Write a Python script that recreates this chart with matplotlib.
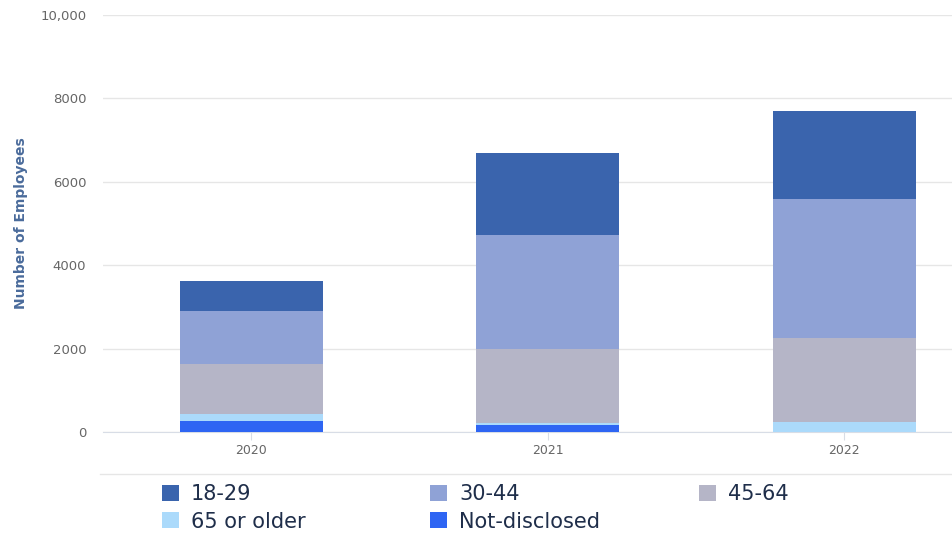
import matplotlib
matplotlib.use("Agg")
import matplotlib.pyplot as plt
from matplotlib.patches import Patch
from matplotlib.lines import Line2D
import numpy as np

years = ["2020", "2021", "2022"]
series_names = ["18-29", "30-44", "45-64", "65 or older", "Not-disclosed"]
not_disclosed = [260, 170, 0]
older_65 = [170, 40, 250]
age_45_64 = [1200, 1780, 2000]
age_30_44 = [1270, 2730, 3330]
age_18_29 = [720, 1960, 2110]
y_ticks = [0, 2000, 4000, 6000, 8000, 10000]
y_tick_labels = ["0", "2000", "4000", "6000", "8000", "10,000"]

colors = {
    "18-29": "#3a64ad",
    "30-44": "#8fa2d6",
    "45-64": "#b5b5c7",
    "65 or older": "#abdafb",
    "Not-disclosed": "#2e65f3",
}

fig = plt.figure(figsize=(9.52, 5.34), dpi=100)
ax = fig.add_axes([103/952, 102/534, 889.5/952, 417/534])

x = np.arange(len(years))
width = 0.482
stack_order = [("Not-disclosed", not_disclosed), ("65 or older", older_65),
               ("45-64", age_45_64), ("30-44", age_30_44), ("18-29", age_18_29)]
bottom = np.zeros(len(years))
for name, vals in stack_order:
    ax.bar(x, vals, width, bottom=bottom, color=colors[name], zorder=3, linewidth=0)
    bottom += np.array(vals)

ax.set_xlim(-0.5, 2.5)
ax.set_ylim(0, 10000)
ax.set_yticks(y_ticks)
ax.set_yticklabels(y_tick_labels)
ax.set_xticks(x)
ax.set_xticklabels(years)
ax.grid(axis="y", color="#e6e6e6", linewidth=1, zorder=0)
for s in ["top", "right", "left"]:
    ax.spines[s].set_visible(False)
ax.spines["bottom"].set_color("#d8dde6")
ax.tick_params(axis="y", length=0, labelsize=9.5, labelcolor="#666666", pad=12)
ax.tick_params(axis="x", length=6, color="#d8dde6", labelsize=9, labelcolor="#666666", pad=3)
ax.set_ylabel("Number of Employees", fontsize=10, fontweight="bold", color="#4a6b9b", labelpad=9)

# separator line above legend
fig.add_artist(Line2D([100/952, 1.0], [1 - 474/534, 1 - 474/534], color="#e6e6e6", linewidth=1))

handles = {n: Patch(facecolor=colors[n], edgecolor="none") for n in series_names}
columns = [(["18-29", "65 or older"], 162), (["30-44", "Not-disclosed"], 430), (["45-64"], 699)]
for names, xpix in columns:
    leg = fig.legend([handles[n] for n in names], names,
                     ncol=1, loc="upper left", bbox_to_anchor=(xpix/952, 1 - 484/534),
                     frameon=False, fontsize=15, handlelength=0.8, handleheight=0.8,
                     handletextpad=0.6, labelspacing=0.36,
                     borderaxespad=0, borderpad=0)
    for t in leg.get_texts():
        t.set_color("#1f2e4a")

fig.savefig("out.png", dpi=100)
